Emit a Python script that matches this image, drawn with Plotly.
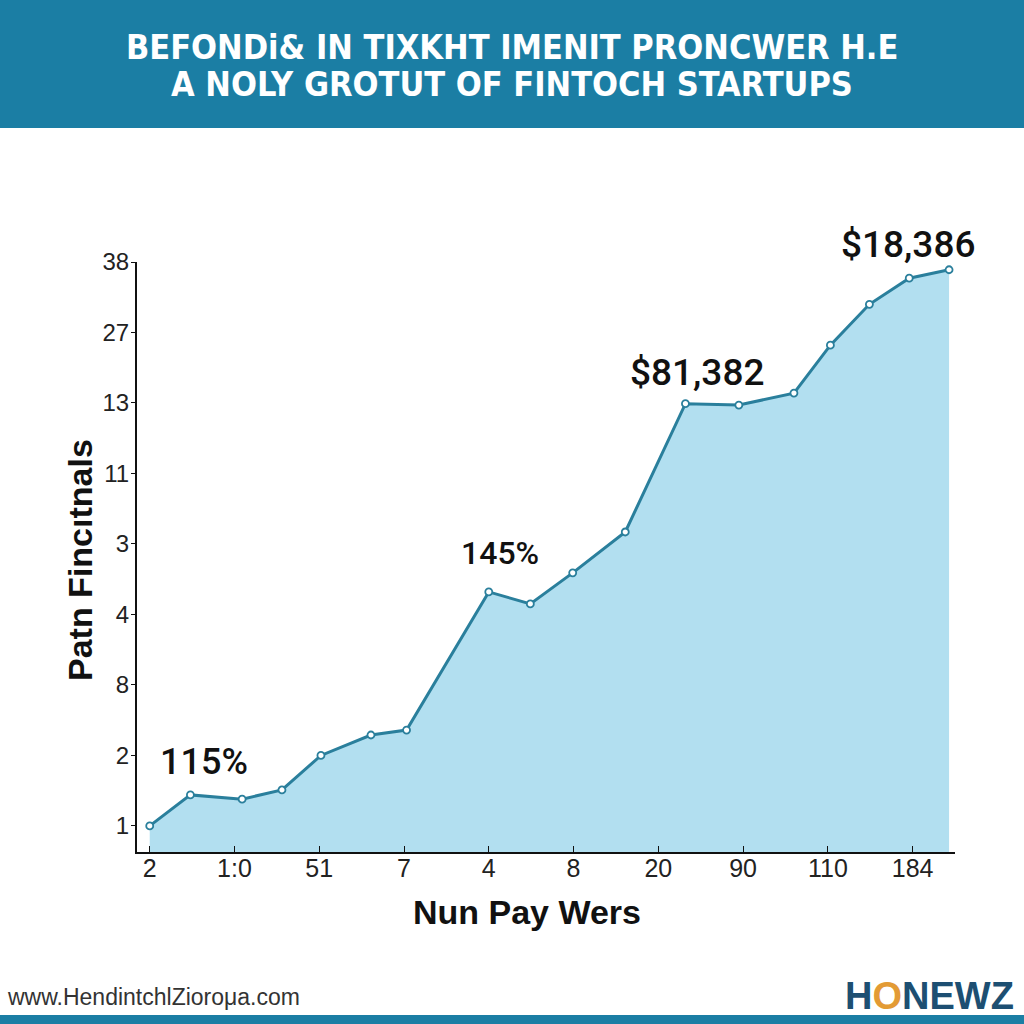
import plotly.graph_objects as go

# values (x in tick-slot units, y in tick-row units)
x_vals = [0, 0.48, 1.09, 1.56, 2.02, 2.61, 3.03, 4.0, 4.49, 4.99,
          5.61, 6.32, 6.95, 7.6, 8.03, 8.49, 8.96, 9.43]
y_vals = [0, 0.44, 0.38, 0.51, 1.0, 1.29, 1.36, 3.32, 3.15, 3.59,
          4.17, 5.99, 5.97, 6.14, 6.82, 7.40, 7.77, 7.89]

x_ticks = ["2", "1:0", "51", "7", "4", "8", "20", "90", "110", "184"]
y_ticks = ["1", "2", "8", "4", "3", "11", "13", "27", "38"]

# callouts: (text, x, y, pixel lift, size)
callouts = [
    ("115%", 0.64, 0.91, 0, 36),
    ("145%", 4.13, 3.87, 0, 32),
    ("$81,382", 6.46, 6.43, 0, 37),
    ("$18,386", 8.94, 7.89, 25, 37),
]

title_lines = [
    "BEFONDi& IN TIXKHT IMENIT PRONCWER H.E",
    "A NOLY GROTUT OF FINTOCH STARTUPS",
]

TEAL = "#1b7ea4"
LINE = "#2a7f9c"
FILL = "#b2dff0"

W, H = 1024, 1024
L, R, T, B = 137, 69, 262, 172
Y_MIN, Y_MAX = -0.37, 8.0


def px(x):
    return (x - L) / (W - L - R)


def py(y):
    return (H - B - y) / (H - T - B)


def note(x, y, text, size, color="#111", family="Liberation Sans, Arial, sans-serif", **kw):
    fig.add_annotation(xref="paper", yref="paper", x=px(x), y=py(y), text=text, showarrow=False,
                       xanchor=kw.pop("xanchor", "center"), yanchor="middle",
                       font=dict(size=size, color=color, family=family), **kw)


fig = go.Figure()

# baseline for the filled area
fig.add_trace(go.Scatter(x=x_vals, y=[Y_MIN] * len(x_vals), mode="lines",
                         line=dict(width=0), hoverinfo="skip", showlegend=False))
fig.add_trace(go.Scatter(
    x=x_vals, y=y_vals, mode="lines+markers", fill="tonexty", fillcolor=FILL,
    line=dict(color=LINE, width=3),
    marker=dict(size=7, color="white", line=dict(color=LINE, width=1.8)),
    showlegend=False,
))

for text, x, y, lift, size in callouts:
    fig.add_annotation(x=x, y=y, yshift=lift, text=text, showarrow=False,
                       xanchor="center", yanchor="middle",
                       font=dict(size=size, color="#111", family="Roboto, Arial, sans-serif", weight=500))

# banner + bottom strip
fig.add_shape(type="rect", xref="paper", yref="paper", x0=px(0), x1=px(W), y0=py(128), y1=py(0),
              fillcolor=TEAL, line=dict(width=0), layer="below")
fig.add_shape(type="rect", xref="paper", yref="paper", x0=px(0), x1=px(W), y0=py(W), y1=py(1015),
              fillcolor=TEAL, line=dict(width=0), layer="below")

for i, line in enumerate(title_lines):
    note(512, 47 + 37 * i, f"<b>{line}</b>", 34, color="white",
         family="Liberation Sans Narrow, Arial Narrow, DejaVu Sans Condensed, sans-serif")

# axis titles
note(80, 560, "<b>Patn Fincıtnals</b>", 34, textangle=-90)
note(527, 912, "<b>Nun Pay Wers</b>", 34)

# footer
note(5, 997, "www.HendintchlZiorομa.com", 23, color="#333", xanchor="left")
note(1016, 996, "<b>H<span style='color:#e39b35'>O</span>NEWZ</b>", 38, color="#1d4f72", xanchor="right")

fig.update_layout(
    width=W, height=H,
    margin=dict(l=L, r=R, t=T, b=B),
    paper_bgcolor="white",
    plot_bgcolor="white",
    font=dict(family="Liberation Sans, Arial, sans-serif", color="#222"),
    xaxis=dict(range=[-0.15, 9.5], tickmode="array", tickvals=list(range(len(x_ticks))), ticktext=x_ticks,
               showgrid=False, zeroline=False, showline=True, linecolor="#111", linewidth=2,
               ticks="inside", ticklen=6, tickcolor="#111", tickfont=dict(size=25),
               ticklabelstandoff=-7),
    yaxis=dict(range=[Y_MIN, Y_MAX], tickmode="array", tickvals=list(range(len(y_ticks))), ticktext=y_ticks,
               showgrid=False, zeroline=False, showline=True, linecolor="#111", linewidth=2,
               ticks="outside", ticklen=4, tickcolor="#111", tickfont=dict(size=24),
               ticklabelstandoff=-3),
)

fig.write_html("out.html", config={"displayModeBar": False},
               post_script="document.body.style.margin='0';")
